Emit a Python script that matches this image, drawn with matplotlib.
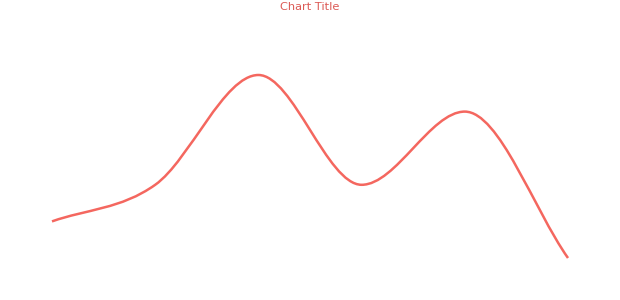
import math
import numpy as np
import matplotlib
matplotlib.use("Agg")
import matplotlib.pyplot as plt
from matplotlib.path import Path
from matplotlib.patches import PathPatch

categories = ["A", "B", "C", "D", "E", "F"]
values = [10, 20, 50, 20, 40, 0]
title = "Chart Title"


def monotone_path(xs, ys):
    """Fritsch-Carlson monotone cubic as Bezier segments."""
    xs = np.asarray(xs, float); ys = np.asarray(ys, float)
    n = len(xs)
    delta = np.diff(ys) / np.diff(xs)
    m = np.zeros(n)
    m[0] = delta[0]
    m[-1] = delta[-1]
    for i in range(1, n - 1):
        if delta[i - 1] == 0 or delta[i] == 0 or np.sign(delta[i - 1]) != np.sign(delta[i]):
            m[i] = 0
        else:
            m[i] = (delta[i - 1] + delta[i]) / 2
    for i in range(n - 1):
        if delta[i] == 0:
            m[i] = m[i + 1] = 0
            continue
        a = m[i] / delta[i]; b = m[i + 1] / delta[i]
        sq = a * a + b * b
        if sq > 9:
            tau = 3 / math.sqrt(sq)
            m[i] = tau * a * delta[i]
            m[i + 1] = tau * b * delta[i]
    verts = [(xs[0], ys[0])]
    codes = [Path.MOVETO]
    for i in range(n - 1):
        dx = (xs[i + 1] - xs[i]) / 3
        verts += [(xs[i] + dx, ys[i] + m[i] * dx),
                  (xs[i + 1] - dx, ys[i + 1] - m[i + 1] * dx),
                  (xs[i + 1], ys[i + 1])]
        codes += [Path.CURVE4] * 3
    return np.array(verts), codes


fig = plt.figure(figsize=(6.2, 3.0), dpi=100)
ax = fig.add_axes([52/620, 42/300, 516/620, 183/300])
ax.set_xlim(0, len(categories) - 1)
ax.set_ylim(0, 50)
ax.axis("off")

x = np.arange(len(categories))
verts, codes = monotone_path(x, values)
patch = PathPatch(Path(verts, codes), facecolor="none", edgecolor="#f4675f",
                  lw=1.8, clip_on=False, capstyle="butt")
ax.add_patch(patch)

fig.text(0.5, 1 - 6.5/300, title, ha="center", va="center", color="#dc5a55", fontsize=8.2)
fig.savefig("out.png", dpi=100)
